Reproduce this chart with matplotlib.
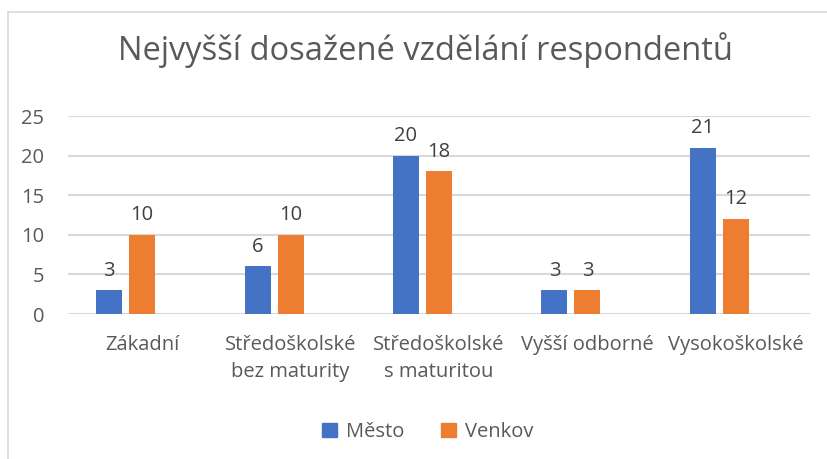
import matplotlib
matplotlib.use("Agg")
import matplotlib.pyplot as plt
from matplotlib.lines import Line2D
from matplotlib.patches import Patch
import numpy as np

categories = ["Zákadní", "Středoškolské\nbez maturity", "Středoškolské\ns maturitou",
              "Vyšší odborné", "Vysokoškolské"]
mesto = [3, 6, 20, 3, 21]
venkov = [10, 10, 18, 3, 12]
series_names = ["Město", "Venkov"]
title = "Nejvyšší dosažené vzdělání respondentů"

plt.rcParams['font.family'] = ['Open Sans', 'DejaVu Sans']
BLUE = "#4472C4"
ORANGE = "#ED7D31"
TXT = "#595959"
LBL = "#404040"

fig = plt.figure(figsize=(8.28, 4.59), dpi=100)
ax = fig.add_axes([68/828, 1-314/459, (810-68)/828, (314-116)/459])

x = np.arange(len(categories))
w = 0.175
step = 0.2225
b1 = ax.bar(x - step, mesto, w, color=BLUE, zorder=3)
b2 = ax.bar(x, venkov, w, color=ORANGE, zorder=3)
for bars, vals in ((b1, mesto), (b2, venkov)):
    for r, v in zip(bars, vals):
        ax.annotate(str(v), (r.get_x() + r.get_width()/2, v), xytext=(0, 7),
                    textcoords="offset points", ha="center", va="bottom",
                    fontsize=14.5, color=LBL)

ax.set_xlim(-0.5, 4.5)
ax.set_ylim(0, 25)
ax.set_yticks([0, 5, 10, 15, 20, 25])
ax.set_xticks(x)
ax.set_xticklabels(categories, fontsize=14.5, color=TXT, linespacing=1.45)
ax.tick_params(axis='y', labelsize=14.5, labelcolor=TXT, length=0, pad=17)
ax.tick_params(axis='x', length=0, pad=15)
ax.grid(axis='y', color='#d9d9d9', linewidth=1.5, zorder=0)
for s in ax.spines.values():
    s.set_visible(False)

fig.text(425/828, 1-50/459, title, ha='center', va='center', fontsize=23.5, color=TXT)

handles = [Patch(color=BLUE), Patch(color=ORANGE)]
leg = fig.legend(handles, series_names, loc='center', bbox_to_anchor=(428/828, 1-432/459),
                 ncol=2, frameon=False, fontsize=14.5, handlelength=0.75, handleheight=0.75,
                 columnspacing=1.8, handletextpad=0.45)
for t in leg.get_texts():
    t.set_color(TXT)

fig.add_artist(Line2D([8/828, 8/828], [0, 1-12/459], transform=fig.transFigure,
                      color='#d9d9d9', linewidth=1.2))
fig.add_artist(Line2D([8/828, 1], [1-12/459, 1-12/459], transform=fig.transFigure,
                      color='#d9d9d9', linewidth=1.2))

fig.savefig("out.png", dpi=100)
